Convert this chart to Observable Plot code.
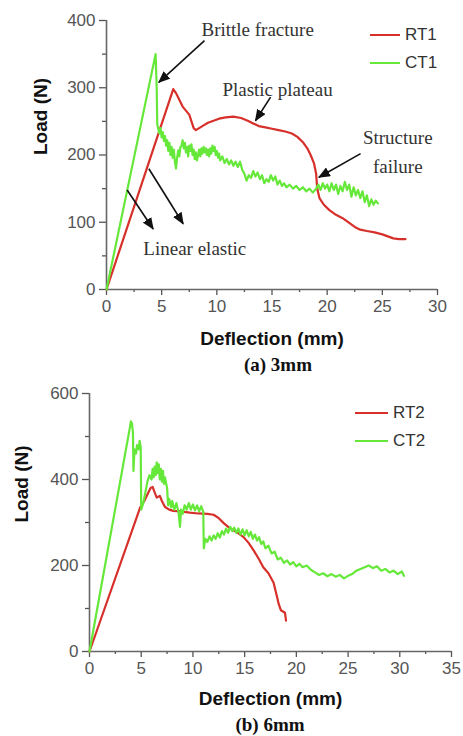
<!DOCTYPE html>
<html>
<head>
<meta charset="utf-8">
<script src="https://cdn.jsdelivr.net/npm/d3@7"></script>
<script src="https://cdn.jsdelivr.net/npm/@observablehq/plot@0.6"></script>
<style>
  body { margin: 0; background: #fff; }
  #wrap { position: relative; width: 463px; height: 736px; overflow: hidden; }
  .panel { position: absolute; left: 0; }
  .caption { position: absolute; transform: translate(-50%, -50%); font-family: "Liberation Serif", "Times New Roman", serif; font-weight: bold; font-size: 19px; line-height: 1; color: #111; white-space: nowrap; }
  .legend { position: absolute; font-family: "Liberation Sans", Arial, sans-serif; font-size: 17px; color: #333; }
  .legend .row { position: absolute; display: flex; align-items: center; white-space: nowrap; }
  .legend .sw { display: inline-block; height: 2.5px; margin-right: 5px; }
</style>
</head>
<body>
<div id="wrap"></div>
<script>
// ---------- DATA ----------
const seriesNamesA = ["RT1", "CT1"];
const seriesNamesB = ["RT2", "CT2"];
const seriesColors = ["#d7302b", "#66e83a"];

// Panel (a) 3mm: [deflection mm, load N]
const rt1 = [[0,0],[6.05,298],[6.3,292],[6.6,282],[6.9,272],[7.2,266],[7.5,260],[7.7,250],[7.9,240],[8.1,237],[8.4,240],[8.8,244],[9.2,248],[9.7,251],[10.2,254],[10.8,256],[11.5,257],[12.2,255],[12.8,251],[13.3,247],[13.8,243],[14.4,241],[15.0,239],[15.6,237],[16.2,235],[16.8,232],[17.3,227],[17.8,219],[18.2,210],[18.5,200],[18.8,188],[19.0,172],[19.1,150],[19.3,136],[19.7,126],[20.2,118],[20.8,111],[21.4,106],[22.0,99],[22.5,93],[23.0,89],[23.6,87],[24.3,85],[25.0,82],[25.5,79],[26.0,76],[26.5,75],[27.1,75]];
const ct1 = [[0,0],[4.45,350],[4.55,300],[4.6,246],[4.7,238],[4.8,232],[4.9,240],[5.0,226],[5.1,234],[5.2,221],[5.3,228],[5.4,214],[5.5,222],[5.6,206],[5.7,218],[5.8,200],[5.9,212],[6.0,196],[6.1,208],[6.2,190],[6.3,180],[6.4,196],[6.5,207],[6.6,198],[6.7,212],[6.8,214],[6.9,222],[7.0,210],[7.1,218],[7.2,204],[7.3,212],[7.4,198],[7.5,214],[7.6,206],[7.7,216],[7.8,200],[7.9,208],[8.0,194],[8.1,204],[8.2,192],[8.3,200],[8.4,208],[8.5,198],[8.6,210],[8.7,202],[8.8,212],[8.9,204],[9.0,210],[9.1,200],[9.2,208],[9.3,198],[9.4,210],[9.5,202],[9.6,214],[9.7,206],[9.8,212],[9.9,200],[10.0,206],[10.1,196],[10.2,202],[10.3,192],[10.5,198],[10.7,188],[10.9,194],[11.1,186],[11.3,192],[11.5,184],[11.7,190],[11.9,182],[12.1,190],[12.3,178],[12.5,172],[12.7,162],[12.9,170],[13.1,166],[13.3,176],[13.5,168],[13.7,174],[13.9,164],[14.1,170],[14.3,158],[14.5,164],[14.7,160],[14.9,170],[15.1,162],[15.3,168],[15.5,156],[15.7,162],[15.9,154],[16.1,158],[16.3,152],[16.6,156],[16.9,150],[17.2,154],[17.5,148],[17.8,152],[18.1,146],[18.4,150],[18.7,144],[19.0,150],[19.2,156],[19.4,148],[19.6,158],[19.8,150],[20.0,156],[20.2,146],[20.4,158],[20.6,148],[20.8,156],[21.0,142],[21.2,154],[21.4,146],[21.6,160],[21.8,148],[22.0,156],[22.2,138],[22.4,152],[22.6,140],[22.8,148],[23.0,136],[23.2,146],[23.4,130],[23.6,140],[23.8,124],[24.0,134],[24.2,126],[24.4,132],[24.6,128]];

// Panel (b) 6mm
const rt2 = [[0,0],[4.9,335],[5.3,350],[5.6,365],[5.9,380],[6.1,383],[6.3,370],[6.5,358],[6.8,362],[7.0,350],[7.3,336],[7.7,330],[8.1,327],[8.8,326],[9.7,323],[10.5,321],[11.4,320],[12.0,318],[12.5,310],[13.0,298],[13.5,288],[14.2,278],[14.9,266],[15.4,252],[15.9,234],[16.4,214],[16.8,196],[17.3,182],[17.8,160],[18.1,130],[18.3,110],[18.5,96],[18.9,90],[19.0,72]];
const ct2 = [[0,0],[3.9,520],[4.0,535],[4.1,530],[4.2,510],[4.25,420],[4.35,470],[4.5,460],[4.6,480],[4.75,470],[4.85,490],[4.95,475],[5.0,330],[5.2,345],[5.4,370],[5.6,395],[5.8,410],[6.0,400],[6.1,425],[6.2,405],[6.3,430],[6.4,410],[6.5,440],[6.6,415],[6.7,435],[6.8,400],[6.9,425],[7.0,395],[7.1,420],[7.2,390],[7.3,405],[7.5,380],[7.6,340],[7.7,355],[7.9,335],[8.0,350],[8.2,330],[8.4,345],[8.6,325],[8.75,290],[8.85,330],[9.0,320],[9.2,340],[9.4,330],[9.6,345],[9.8,330],[10.0,342],[10.2,328],[10.4,340],[10.6,326],[10.8,338],[11.0,325],[11.05,240],[11.2,262],[11.4,255],[11.6,268],[11.8,258],[12.0,270],[12.2,262],[12.4,275],[12.6,265],[12.8,280],[13.0,272],[13.2,286],[13.4,276],[13.6,290],[13.8,280],[14.0,288],[14.2,276],[14.4,286],[14.6,272],[14.8,284],[15.0,270],[15.2,282],[15.4,268],[15.6,278],[15.8,262],[16.0,272],[16.2,258],[16.4,266],[16.6,250],[16.8,256],[17.0,240],[17.3,246],[17.6,228],[17.9,232],[18.2,214],[18.5,218],[18.8,206],[19.1,212],[19.4,202],[19.7,208],[20.0,198],[20.3,204],[20.6,196],[21.0,200],[21.4,190],[21.8,184],[22.2,178],[22.6,182],[23.0,175],[23.4,180],[23.8,174],[24.2,178],[24.6,170],[25.0,176],[25.4,180],[25.8,188],[26.2,192],[26.6,196],[27.0,200],[27.4,194],[27.8,198],[28.2,188],[28.6,192],[29.0,184],[29.4,188],[29.8,180],[30.2,186],[30.4,176]];

// Axes
const xTicksA = [0,5,10,15,20,25,30];
const xMinorA = [2.5,7.5,12.5,17.5,22.5,27.5];
const yTicksA = [0,100,200,300,400];
const yMinorA = [50,150,250,350];
const xTicksB = [0,5,10,15,20,25,30,35];
const xMinorB = [2.5,7.5,12.5,17.5,22.5,27.5,32.5];
const yTicksB = [0,200,400,600];
const yMinorB = [100,300,500];
const xLabel = "Deflection (mm)";
const yLabel = "Load (N)";
const captions = ["(a) 3mm", "(b) 6mm"];

// Annotations for panel (a): text labels and arrows (data coordinates)
const noteTexts = ["Brittle fracture", "Plastic plateau", "Structure\nfailure", "Linear elastic"];
const noteX = [13.7, 15.5, 26.4, 8.0];
const noteY = [390, 302, 208, 65];
const arrowFrom = [[8.88,370],[14.87,286],[23.03,202],[1.87,148],[3.84,179.5]];
const arrowTo   = [[4.74,308],[13.5,251],[19.25,167],[4.23,90],[6.95,97.7]];

// ---------- DRAW ----------
const sans = '"Liberation Sans", Arial, Helvetica, sans-serif';
const serif = '"Liberation Serif", "Times New Roman", serif';

function chart(cfg) {
  const rows = [];
  cfg.series.forEach((s, i) => s.forEach(([x, y]) => rows.push({series: cfg.names[i], x, y})));
  const marks = [
    Plot.axisX(cfg.xTicks, {tickSize: 6, tickPadding: 4, fontSize: 17, color: "#555", label: null, strokeWidth: 1.3}),
    Plot.axisX(cfg.xMinor, {tickSize: 3, tickFormat: () => "", color: "#555", label: null, strokeWidth: 1.3}),
    Plot.axisY(cfg.yTicks, {tickSize: 7, tickPadding: 4, fontSize: 17, color: "#555", label: null, strokeWidth: 1.3}),
    Plot.axisY(cfg.yMinor, {tickSize: 4, tickFormat: () => "", color: "#555", label: null, strokeWidth: 1.3}),
    Plot.ruleY([0], {stroke: "#666", strokeWidth: 1.6}),
    Plot.ruleX([0], {stroke: "#666", strokeWidth: 1.6}),
    Plot.line(rows, {x: "x", y: "y", z: "series", stroke: "series", strokeWidth: 2.2, curve: "linear"}),
    Plot.text([xLabel], {frameAnchor: "bottom", dy: cfg.xLabelDy, lineAnchor: "middle", fontSize: 19, fontWeight: "bold", fill: "#111"}),
    Plot.text([yLabel], {frameAnchor: "left", rotate: -90, dx: cfg.yLabelDx, lineAnchor: "middle", fontSize: 19, fontWeight: "bold", fill: "#111"})
  ];
  if (cfg.notes) {
    marks.push(Plot.link(cfg.arrowFrom.map((f, i) => ({f, t: cfg.arrowTo[i]})), {
      x1: d => d.f[0], y1: d => d.f[1], x2: d => d.t[0], y2: d => d.t[1],
      stroke: "#111", strokeWidth: 1.6
    }));
    marks.push(Plot.text(cfg.notes.map((t, i) => ({t, x: cfg.noteX[i], y: cfg.noteY[i]})), {
      x: "x", y: "y", text: "t", fontFamily: serif, fontSize: 19, fill: "#333", lineHeight: 1.5
    }));
  }
  const svg = Plot.plot({
    width: 463, height: cfg.height,
    marginTop: cfg.mt, marginRight: cfg.mr, marginBottom: cfg.mb, marginLeft: cfg.ml,
    style: {fontFamily: sans, fontSize: "17px", background: "transparent", overflow: "visible"},
    x: {domain: cfg.xDomain, axis: null},
    y: {domain: cfg.yDomain, axis: null},
    color: {domain: cfg.names, range: seriesColors},
    marks
  });
  // filled arrowheads
  if (cfg.notes) {
    const ns = "http://www.w3.org/2000/svg";
    const defs = document.createElementNS(ns, "defs");
    const marker = document.createElementNS(ns, "marker");
    marker.setAttribute("id", "ah-" + cfg.id);
    marker.setAttribute("viewBox", "0 0 12 10");
    marker.setAttribute("refX", "11");
    marker.setAttribute("refY", "5");
    marker.setAttribute("markerWidth", "12");
    marker.setAttribute("markerHeight", "10");
    marker.setAttribute("markerUnits", "userSpaceOnUse");
    marker.setAttribute("orient", "auto");
    const p = document.createElementNS(ns, "path");
    p.setAttribute("d", "M0,0L12,5L0,10z");
    p.setAttribute("fill", "#111");
    marker.appendChild(p);
    defs.appendChild(marker);
    svg.insertBefore(defs, svg.firstChild);
    svg.querySelectorAll('g[aria-label="link"] path, g[aria-label="link"] line').forEach(el => {
      el.setAttribute("marker-end", `url(#ah-${cfg.id})`);
    });
  }
  return svg;
}

const wrap = document.getElementById("wrap");

function addPanel(svg, top) {
  const d = document.createElement("div");
  d.className = "panel";
  d.style.top = top + "px";
  d.appendChild(svg);
  wrap.appendChild(d);
}

function addCaption(text, cx, cy) {
  const d = document.createElement("div");
  d.className = "caption";
  d.style.left = cx + "px";
  d.style.top = cy + "px";
  d.textContent = text;
  wrap.appendChild(d);
}

function addLegend(names, left, top, swatchW, gap) {
  const lg = document.createElement("div");
  lg.className = "legend";
  lg.style.left = left + "px";
  lg.style.top = top + "px";
  names.forEach((n, i) => {
    const r = document.createElement("div");
    r.className = "row";
    r.style.top = (i * gap) + "px";
    r.style.transform = "translateY(-50%)";
    const sw = document.createElement("span");
    sw.className = "sw";
    sw.style.width = swatchW + "px";
    sw.style.background = seriesColors[i];
    r.appendChild(sw);
    r.appendChild(document.createTextNode(n));
    lg.appendChild(r);
  });
  wrap.appendChild(lg);
}

addPanel(chart({
  id: "a", series: [rt1, ct1], names: seriesNamesA,
  height: 350, mt: 20, mr: 26, mb: 61, ml: 106,
  xDomain: [0, 30], yDomain: [0, 400],
  xTicks: xTicksA, xMinor: xMinorA, yTicks: yTicksA, yMinor: yMinorA,
  xLabelDy: 49, yLabelDx: -66,
  notes: noteTexts, noteX, noteY, arrowFrom, arrowTo
}), 0);

addPanel(chart({
  id: "b", series: [rt2, ct2], names: seriesNamesB,
  height: 345, mt: 23, mr: 12, mb: 64, ml: 89,
  xDomain: [0, 35], yDomain: [0, 600],
  xTicks: xTicksB, xMinor: xMinorB, yTicks: yTicksB, yMinor: yMinorB,
  xLabelDy: 47, yLabelDx: -68
}), 370);

addCaption(captions[0], 278, 364);
addCaption(captions[1], 270, 724);
addLegend(seriesNamesA, 370, 35, 30, 28);
addLegend(seriesNamesB, 355, 413, 33, 28);
</script>
</body>
</html>
